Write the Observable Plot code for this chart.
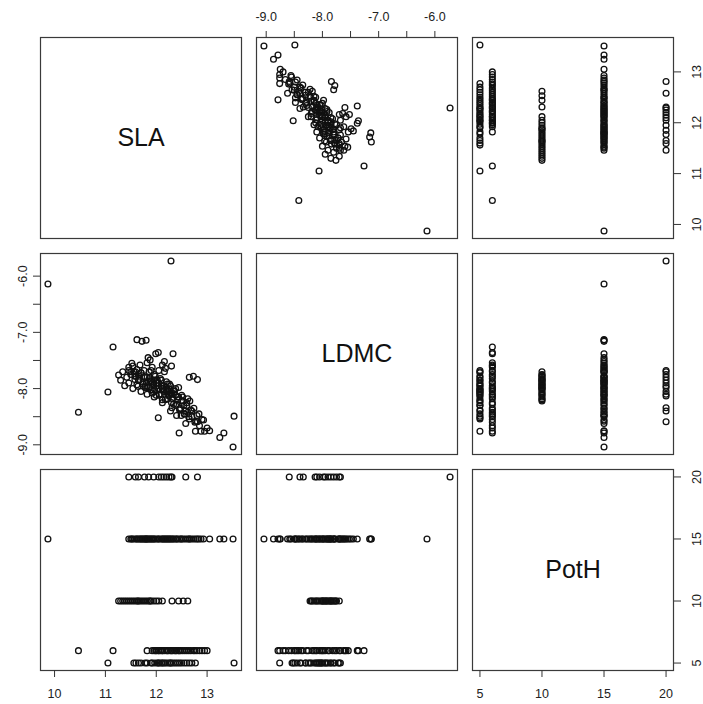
<!DOCTYPE html>
<html><head><meta charset="utf-8">
<script src="https://cdn.jsdelivr.net/npm/d3@7"></script>
<script src="https://cdn.jsdelivr.net/npm/@observablehq/plot@0.6"></script>
<style>
html,body{margin:0;padding:0;background:#fff;}
#chart{position:relative;width:703px;height:704px;overflow:hidden;background:#fff;}
#chart svg{position:absolute;}
</style>
</head><body><div id="chart"></div>
<script>
// ---- data: SLA and LDMC per plant, grouped by PotH value ----
const potH = [5, 6, 10, 15, 20];
const sla_h5 = [13.53, 11.05, 11.56, 11.60, 11.65, 11.70, 11.78, 11.82, 11.92, 11.97, 12.02, 12.06, 12.10, 12.15, 12.18, 12.22, 12.26, 12.30, 12.34, 12.38, 12.42, 12.46, 12.50, 12.55, 12.60, 12.65, 12.70, 12.77, 12.04, 11.90, 12.12, 12.28];
const ldmc_h5 = [-8.49, -8.06, -7.70, -7.78, -7.85, -7.72, -7.95, -7.80, -7.90, -8.02, -7.85, -8.10, -7.96, -8.05, -8.20, -7.92, -8.12, -8.25, -8.02, -8.30, -8.15, -8.38, -8.22, -8.45, -8.30, -8.54, -8.40, -8.76, -8.52, -7.68, -8.00, -8.08];
const sla_h6 = [10.47, 11.15, 11.82, 11.99, 12.04, 11.92, 11.96, 12.00, 12.05, 12.08, 12.12, 12.16, 12.20, 12.24, 12.28, 12.32, 12.36, 12.40, 12.44, 12.48, 12.52, 12.56, 12.60, 12.64, 12.68, 12.73, 12.76, 12.80, 12.85, 12.90, 12.95, 13.00, 12.30, 12.12, 12.45, 12.22, 12.38];
const ldmc_h6 = [-8.42, -7.26, -7.54, -7.38, -7.36, -7.62, -7.75, -7.90, -7.68, -7.82, -8.00, -7.70, -7.88, -8.10, -7.95, -8.18, -8.05, -8.28, -7.98, -8.35, -8.15, -8.45, -8.25, -8.50, -8.38, -7.78, -8.60, -8.48, -8.66, -8.55, -8.76, -8.70, -7.60, -7.58, -8.79, -8.02, -8.12];
const sla_h10 = [11.26, 11.30, 11.34, 11.38, 11.42, 11.46, 11.50, 11.54, 11.58, 11.62, 11.66, 11.70, 11.74, 11.78, 11.82, 11.86, 11.90, 11.95, 12.00, 12.05, 12.12, 12.31, 12.44, 12.53, 12.62, 11.64, 11.88];
const ldmc_h10 = [-7.76, -7.85, -7.70, -7.95, -7.80, -7.90, -7.75, -8.00, -7.84, -7.93, -7.78, -8.05, -7.88, -7.98, -8.10, -7.82, -8.02, -7.92, -8.12, -8.00, -8.20, -8.08, -8.15, -8.22, -8.18, -7.96, -7.86];
const sla_h15 = [9.87, 13.51, 13.33, 13.25, 13.05, 11.62, 11.72, 11.80, 12.33, 11.88, 11.46, 11.50, 11.54, 11.58, 11.62, 11.66, 11.70, 11.74, 11.78, 11.82, 11.86, 11.90, 11.94, 11.98, 12.02, 12.06, 12.10, 12.14, 12.18, 12.22, 12.26, 12.30, 12.34, 12.38, 12.42, 12.46, 12.50, 12.54, 12.58, 12.62, 12.66, 12.70, 12.74, 12.78, 12.81, 12.84, 12.88, 12.93, 11.52, 11.68, 11.76, 11.96, 12.12, 12.20, 12.28, 12.40, 12.49, 12.65, 12.16, 11.84, 11.92, 12.04, 12.24, 11.80];
const ldmc_h15 = [-6.14, -9.04, -8.79, -8.87, -8.75, -7.13, -7.16, -7.14, -7.38, -7.49, -7.62, -7.70, -7.60, -7.78, -7.66, -7.85, -7.72, -7.92, -7.80, -7.98, -7.70, -7.88, -8.05, -7.78, -7.95, -8.12, -7.85, -8.02, -7.64, -8.18, -7.92, -8.10, -8.28, -8.00, -8.20, -8.36, -8.12, -8.30, -8.62, -8.42, -8.22, -8.50, -8.35, -8.58, -7.84, -8.45, -8.76, -8.56, -7.55, -7.58, -7.68, -8.15, -8.25, -7.98, -8.40, -8.48, -8.48, -7.80, -7.52, -7.45, -8.08, -7.90, -8.05, -7.88];
const sla_h20 = [12.81, 12.58, 12.31, 12.25, 12.20, 12.15, 12.10, 12.05, 11.95, 11.85, 11.77, 11.65, 11.59, 11.46, 12.29];
const ldmc_h20 = [-8.59, -8.40, -8.34, -8.13, -8.05, -7.95, -8.10, -7.90, -7.85, -7.98, -7.80, -7.75, -7.70, -7.68, -5.73];

const variables = ["SLA", "LDMC", "PotH"];
const slaTicks = [10, 11, 12, 13];
const slaTickLabels = ["10", "11", "12", "13"];
const ldmcTicks = [-9, -8.5, -8, -7.5, -7, -6.5, -6];
const ldmcTickLabels = ["-9.0", "", "-8.0", "", "-7.0", "", "-6.0"];
const pothTicks = [5, 10, 15, 20];
const pothTickLabels = ["5", "10", "15", "20"];

// ---- build table ----
const slaGroups = [sla_h5, sla_h6, sla_h10, sla_h15, sla_h20];
const ldmcGroups = [ldmc_h5, ldmc_h6, ldmc_h10, ldmc_h15, ldmc_h20];
const rows = potH.flatMap((h, g) => slaGroups[g].map((s, i) => ({SLA: s, LDMC: ldmcGroups[g][i], PotH: h})));

const tickInfo = {
  SLA: [slaTicks, slaTickLabels],
  LDMC: [ldmcTicks, ldmcTickLabels],
  PotH: [pothTicks, pothTickLabels]
};
function padded(key) {
  const [a, b] = d3.extent(rows, d => d[key]);
  const p = (b - a) * 0.04;
  return [a - p, b + p];
}
const domains = Object.fromEntries(variables.map(v => [v, padded(v)]));

const SIZE = 201, GAP = 15, LEFT = 40, TOP = 36.7, M = 45;
const FONT = "'Liberation Sans', Arial, Helvetica, sans-serif";

function fmt(v) {
  const [t, l] = tickInfo[v];
  const map = new Map(t.map((d, i) => [d, l[i]]));
  return d => map.get(d) ?? "";
}
function axisMark(side, v) {
  const ticks = tickInfo[v][0];
  const common = {ticks, tickFormat: fmt(v), tickSize: 7, label: null, stroke: "#333", fill: "#222"};
  if (side === "top") return Plot.axisX({...common, anchor: "top", tickPadding: 10});
  if (side === "bottom") return Plot.axisX({...common, anchor: "bottom", tickPadding: 12});
  if (side === "left") return Plot.axisY({...common, anchor: "left", tickRotate: -90, textAnchor: "middle", lineAnchor: "bottom", tickPadding: 7});
  return Plot.axisY({...common, anchor: "right", tickRotate: -90, textAnchor: "middle", lineAnchor: "top", tickPadding: 12});
}
const axesSpec = {
  "0,1": [["top", "x"]],
  "0,2": [["right", "y"]],
  "1,0": [["left", "y"]],
  "2,0": [["bottom", "x"]],
  "2,2": [["bottom", "x"], ["right", "y"]]
};

const chart = document.getElementById("chart");
for (let r = 0; r < 3; r++) {
  for (let c = 0; c < 3; c++) {
    const xv = variables[c], yv = variables[r];
    const marks = [];
    if (r === c) {
      marks.push(Plot.text([xv], {text: d => d, frameAnchor: "middle", fontSize: 25, fill: "#111"}));
    } else {
      marks.push(Plot.dot(rows, {x: xv, y: yv, r: 2.9, stroke: "#111", strokeWidth: 1.3, fill: "none"}));
    }
    marks.push(Plot.frame({stroke: "#3a3a3a", strokeWidth: 1.2}));
    for (const [side, which] of (axesSpec[`${r},${c}`] || [])) {
      marks.push(axisMark(side, which === "x" ? xv : yv));
    }
    const svg = Plot.plot({
      width: SIZE + 2 * M,
      height: SIZE + 2 * M,
      margin: M,
      x: {domain: domains[xv], axis: null},
      y: {domain: domains[yv], axis: null},
      style: {background: "transparent", fontFamily: FONT, fontSize: "12.5px", overflow: "visible", color: "#222"},
      marks
    });
    svg.style.left = (LEFT + c * (SIZE + GAP) - M) + "px";
    svg.style.top = (TOP + r * (SIZE + GAP) - M) + "px";
    chart.appendChild(svg);
  }
}
</script>
</body></html>
